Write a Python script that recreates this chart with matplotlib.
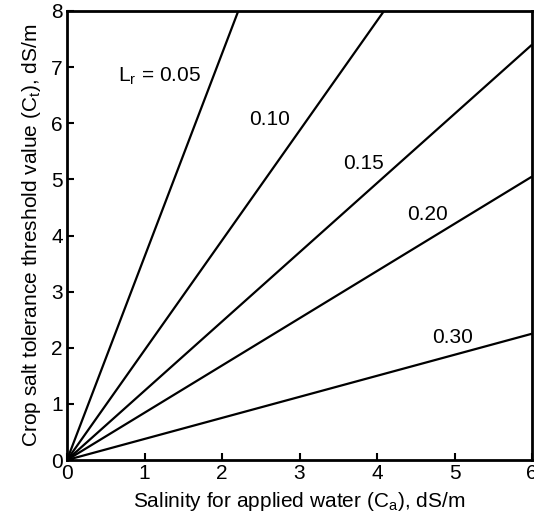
import matplotlib
matplotlib.use("Agg")
import matplotlib.pyplot as plt

plt.rcParams["font.family"] = ["Liberation Sans", "DejaVu Sans"]
plt.rcParams["mathtext.default"] = "regular"

# Leaching requirement curves: Ct as a function of Ca, straight through the origin
leaching = ["0.05", "0.10", "0.15", "0.20", "0.30"]
end_ca = [2.21, 4.09, 6.0, 6.0, 6.0]     # Ca at which each line leaves the plot
end_ct = [8.0, 8.0, 7.40, 5.05, 2.25]    # Ct at that point
label_text = [r"L$_r$ = 0.05", "0.10", "0.15", "0.20", "0.30"]
label_ca = [1.19, 2.62, 3.83, 4.65, 4.98]
label_ct = [6.84, 6.06, 5.29, 4.38, 2.19]

xticks = [0, 1, 2, 3, 4, 5, 6]
yticks = [0, 1, 2, 3, 4, 5, 6, 7, 8]

fig = plt.figure(figsize=(5.34, 5.23), dpi=100)
ax = fig.add_axes([67 / 534, 63 / 523, 465 / 534, 449 / 523])

for ca, ct in zip(end_ca, end_ct):
    ax.plot([0, ca], [0, ct], color="black", lw=1.6, solid_capstyle="butt")

for txt, x, y in zip(label_text, label_ca, label_ct):
    ax.text(x, y, txt, fontsize=15, ha="center", va="center")

ax.set_xlim(0, 6)
ax.set_ylim(0, 8)
ax.set_xticks(xticks)
ax.set_yticks(yticks)
ax.tick_params(direction="in", length=5, width=1.5, labelsize=15, pad=3)
for s in ax.spines.values():
    s.set_linewidth(2)

ax.set_xlabel("Salinity for applied water (C$_a$), dS/m", fontsize=15, labelpad=5)
ax.set_ylabel("Crop salt tolerance threshold value (C$_t$), dS/m", fontsize=15, labelpad=6)

fig.savefig("out.png", dpi=100)
